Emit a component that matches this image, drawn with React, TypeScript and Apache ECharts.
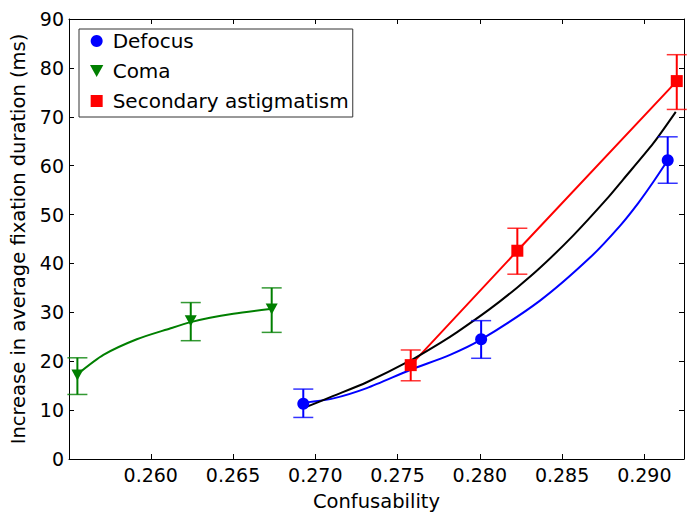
import React, { useEffect, useRef } from "react";
import * as echarts from "echarts";

// ---- data ----
const xTicks = [0.26, 0.265, 0.27, 0.275, 0.28, 0.285, 0.29];

const defocusX = [0.26927, 0.28008, 0.29142];
const defocusY = [11.3, 24.5, 61.1];
const defocusLow = [8.5, 20.6, 56.4];
const defocusHigh = [14.3, 28.3, 65.9];

const comaX = [0.25554, 0.26243, 0.26735];
const comaY = [17.2, 28.3, 30.7];
const comaLow = [13.2, 24.2, 25.9];
const comaHigh = [20.7, 32.0, 35.0];

const astigX = [0.2758, 0.28228, 0.29197];
const astigY = [19.2, 42.6, 77.3];
const astigLow = [16.0, 37.8, 71.5];
const astigHigh = [22.3, 47.2, 82.7];

const comaFitX = [0.2556, 0.25712, 0.25915, 0.26117, 0.26243, 0.2636, 0.26502, 0.26725];
const comaFitY = [17.5, 21.3, 24.5, 26.7, 28.0, 28.9, 29.7, 30.7];

const defocusFitX = [0.26927, 0.2711, 0.27313, 0.27576, 0.27819, 0.28001, 0.28366, 0.2867, 0.28852, 0.28964, 0.29055, 0.29142];
const defocusFitY = [11.5, 12.4, 14.5, 18.2, 21.3, 24.3, 32.4, 41.2, 47.7, 52.4, 56.7, 61.1];

const allFitX = [0.26927, 0.2711, 0.27313, 0.27576, 0.27758, 0.2786, 0.28062, 0.28228, 0.28366, 0.2857, 0.28772, 0.28872, 0.29055, 0.29191];
const allFitY = [10.4, 12.9, 15.7, 20.1, 23.7, 25.9, 30.7, 35.1, 39.1, 45.8, 53.2, 57.2, 64.6, 71.0];

const BLUE = "#0000ff";
const GREEN = "#007f00";
const RED = "#ff0000";
const FONT = "DejaVu Sans";
const DOWN_TRIANGLE = "path://M0,0L10,0L5,9Z";
const SQUARE = "path://M0,0L10,0L10,10L0,10Z";

const zip = (xs: number[], ys: number[]) => xs.map((x, i) => [x, ys[i]]);
const zip3 = (xs: number[], a: number[], b: number[]) => xs.map((x, i) => [x, a[i], b[i]]);

function errorSeries(name: string, color: string, data: number[][]) {
  return {
    name,
    type: "custom",
    z: 3,
    encode: { x: 0, y: [1, 2] },
    data,
    renderItem: (params: any, api: any) => {
      const x = api.value(0);
      const lo = api.coord([x, api.value(1)]);
      const hi = api.coord([x, api.value(2)]);
      const cap = 10;
      return {
        type: "group",
        children: [
          { type: "line", shape: { x1: lo[0], y1: lo[1], x2: hi[0], y2: hi[1] }, style: { stroke: color, lineWidth: 2 } },
          { type: "line", shape: { x1: lo[0] - cap, y1: lo[1], x2: lo[0] + cap, y2: lo[1] }, style: { stroke: color, lineWidth: 1.5, opacity: 0.8 } },
          { type: "line", shape: { x1: hi[0] - cap, y1: hi[1], x2: hi[0] + cap, y2: hi[1] }, style: { stroke: color, lineWidth: 1.5, opacity: 0.8 } },
        ],
      };
    },
  };
}

function fitSeries(name: string, color: string, xs: number[], ys: number[]) {
  return {
    name,
    type: "line",
    data: zip(xs, ys),
    smooth: 0.25,
    showSymbol: false,
    lineStyle: { color, width: 2 },
    z: 2,
  };
}

export default function App() {
  const ref = useRef<HTMLDivElement>(null);
  useEffect(() => {
    if (!ref.current) return;
    const chart = echarts.init(ref.current, null, { renderer: "svg" });
    const xMin = 0.25503;
    const xMax = 0.29241;
    const tickStyle = { show: true, inside: true, length: 5, lineStyle: { color: "#000", width: 1 } };
    chart.setOption({
      animation: false,
      backgroundColor: "#fff",
      textStyle: { fontFamily: FONT },
      grid: { left: 69, right: 6, top: 19, bottom: 55, containLabel: false, outerBoundsMode: "none" },
      legend: {
        data: [
          { name: "Defocus", icon: "circle" },
          { name: "Coma", icon: DOWN_TRIANGLE },
          { name: "Secondary astigmatism", icon: SQUARE },
        ],
        orient: "vertical",
        left: 79,
        top: 29,
        itemWidth: 20,
        itemHeight: 12,
        itemGap: 10,
        padding: [2, 4, 6, 11],
        borderColor: "#333",
        borderWidth: 1,
        borderRadius: 0,
        backgroundColor: "#fff",
        selectedMode: false,
        textStyle: { fontFamily: FONT, fontSize: 20, color: "#000", padding: [0, 0, 0, 1] },
      },
      xAxis: [
        {
          type: "value",
          min: xMin,
          max: xMax,
          position: "bottom",
          name: "Confusability",
          nameLocation: "middle",
          nameGap: 32,
          nameTextStyle: { fontFamily: FONT, fontSize: 19.5, color: "#000" },
          axisLine: { show: true, onZero: false, lineStyle: { color: "#000", width: 1 } },
          axisTick: { ...tickStyle, customValues: xTicks },
          axisLabel: {
            customValues: xTicks,
            formatter: (v: number) => v.toFixed(3),
            fontFamily: FONT,
            fontSize: 19,
            color: "#000",
            margin: 6,
          },
          splitLine: { show: false },
        },
        {
          type: "value",
          min: xMin,
          max: xMax,
          position: "top",
          axisLine: { show: true, onZero: false, lineStyle: { color: "#000", width: 1 } },
          axisTick: { ...tickStyle, customValues: xTicks },
          axisLabel: { show: false },
          splitLine: { show: false },
        },
      ],
      yAxis: [
        {
          type: "value",
          min: 0,
          max: 90,
          interval: 10,
          position: "left",
          name: "Increase in average fixation duration (ms)",
          nameLocation: "middle",
          nameGap: 33,
          nameTextStyle: { fontFamily: FONT, fontSize: 19.5, color: "#000" },
          axisLine: { show: true, onZero: false, lineStyle: { color: "#000", width: 1 } },
          axisTick: tickStyle,
          axisLabel: { fontFamily: FONT, fontSize: 19, color: "#000", margin: 5 },
          splitLine: { show: false },
        },
        {
          type: "value",
          min: 0,
          max: 90,
          interval: 10,
          position: "right",
          axisLine: { show: true, onZero: false, lineStyle: { color: "#000", width: 1 } },
          axisTick: tickStyle,
          axisLabel: { show: false },
          splitLine: { show: false },
        },
      ],
      series: [
        fitSeries("Coma fit", GREEN, comaFitX, comaFitY),
        fitSeries("Defocus fit", BLUE, defocusFitX, defocusFitY),
        {
          name: "Astigmatism line",
          type: "line",
          data: zip(astigX, astigY),
          showSymbol: false,
          lineStyle: { color: RED, width: 2 },
          z: 2,
        },
        fitSeries("Overall fit", "#000", allFitX, allFitY),
        errorSeries("Defocus err", BLUE, zip3(defocusX, defocusLow, defocusHigh)),
        errorSeries("Coma err", GREEN, zip3(comaX, comaLow, comaHigh)),
        errorSeries("Astig err", RED, zip3(astigX, astigLow, astigHigh)),
        {
          name: "Defocus",
          type: "scatter",
          data: zip(defocusX, defocusY),
          symbol: "circle",
          symbolSize: 12,
          itemStyle: { color: BLUE, opacity: 1 },
          z: 5,
        },
        {
          name: "Coma",
          type: "scatter",
          data: zip(comaX, comaY),
          symbol: DOWN_TRIANGLE,
          symbolSize: [12, 11],
          itemStyle: { color: GREEN, opacity: 1 },
          z: 5,
        },
        {
          name: "Secondary astigmatism",
          type: "scatter",
          data: zip(astigX, astigY),
          symbol: SQUARE,
          symbolSize: 12,
          itemStyle: { color: RED, opacity: 1 },
          z: 5,
        },
      ],
    });
    return () => chart.dispose();
  }, []);
  return (
    <div
      ref={ref}
      style={{ position: "absolute", left: 0, top: 0, width: 690, height: 514, background: "#fff" }}
    />
  );
}
